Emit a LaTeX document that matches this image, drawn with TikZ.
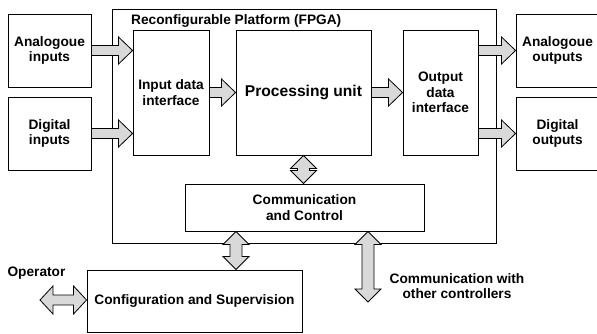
\documentclass[tikz,border=0pt]{standalone}
\usepackage{fontspec}
\setmainfont{Liberation Sans}
\usetikzlibrary{calc}
\definecolor{arrowgray}{RGB}{217,217,217}
\tikzset{
  box/.style={draw, line width=0.9pt, inner sep=0pt, align=center},
  lbl/.style={inner sep=0pt, align=center},
  barrow/.style={draw, fill=arrowgray, line width=0.8pt, line join=miter},
}
\newcommand\hbarrow[2]{\draw[barrow] let \p1=#1, \p2=#2 in
  (\x1,\y1+5pt) -- (\x2-14pt,\y1+5pt) -- (\x2-14pt,\y1+13.5pt) -- (\x2,\y1)
  -- (\x2-14pt,\y1-13.5pt) -- (\x2-14pt,\y1-5pt) -- (\x1,\y1-5pt) -- cycle;}
\newcommand\hdbarrow[2]{\draw[barrow] let \p1=#1, \p2=#2 in
  (\x1,\y1) -- (\x1+13pt,\y1+14pt) -- (\x1+13pt,\y1+5pt) -- (\x2-13pt,\y1+5pt)
  -- (\x2-13pt,\y1+14pt) -- (\x2,\y1) -- (\x2-13pt,\y1-14pt) -- (\x2-13pt,\y1-5pt)
  -- (\x1+13pt,\y1-5pt) -- (\x1+13pt,\y1-14pt) -- cycle;}
\newcommand\vdbarrow[2]{\draw[barrow] let \p1=#1, \p2=#2 in
  (\x1,\y1) -- (\x1+13pt,\y1-13pt) -- (\x1+6pt,\y1-13pt) -- (\x1+6pt,\y2+13pt)
  -- (\x1+13pt,\y2+13pt) -- (\x1,\y2) -- (\x1-13pt,\y2+13pt) -- (\x1-6pt,\y2+13pt)
  -- (\x1-6pt,\y1-13pt) -- (\x1-13pt,\y1-13pt) -- cycle;}
\begin{document}
\begin{tikzpicture}[x=1pt, y=-1pt,
  every node/.append style={font=\fontsize{13.7}{15.6}\selectfont\bfseries}]
\clip (0,0) rectangle (597,333);
\fill[white] (0,0) rectangle (597,333);
% platform
\node[box, minimum width=384pt, minimum height=234pt] (plat) at (304,126) {};
\node[lbl, anchor=base west] (title) at (131,24) {Reconfigurable Platform (FPGA)};
% inputs
\node[box, minimum width=83pt, minimum height=73pt] (ain) at (49.5,50.5) {Analogoue\\inputs};
\node[box, minimum width=83pt, minimum height=73pt] (din) at (49.5,133.5) {Digital\\inputs};
% inner blocks
\node[box, minimum width=76pt, minimum height=125pt] (idi) at (171,92.5) {Input data\\interface};
\node[box, minimum width=135pt, minimum height=125pt, font=\fontsize{15.6}{18}\selectfont\bfseries] (pu) at (303.5,92.5) {Processing unit};
\node[box, minimum width=75pt, minimum height=125pt] (odi) at (440.5,92.5) {Output\\data\\interface};
% outputs
\node[box, minimum width=83pt, minimum height=73pt] (aout) at (557.5,50.5) {Analogoue\\outputs};
\node[box, minimum width=83pt, minimum height=73pt] (dout) at (557.5,133.5) {Digital\\outputs};
% communication
\node[box, minimum width=239pt, minimum height=47pt] (cc) at (304.5,207.5) {Communication\\and Control};
\node[box, minimum width=215pt, minimum height=62pt] (cfg) at (194.5,301) {Configuration and Supervision};
% labels
\node[lbl] (op) at (36.5,273.5) {Operator};
\node[lbl] (oth) at (457,286) {Communication with\\other controllers};
% coordinates
\coordinate (opL) at (40,300);
\coordinate (cx1) at (236,0);
\coordinate (othEnd) at (368,302);
% arrows
\hbarrow{(ain.east)}{(idi.west |- ain.east)}
\hbarrow{(din.east)}{(idi.west |- din.east)}
\hbarrow{(idi.east)}{(pu.west)}
\hbarrow{(pu.east)}{(odi.west)}
\hbarrow{(odi.east |- aout.west)}{(aout.west)}
\hbarrow{(odi.east |- dout.west)}{(dout.west)}
\vdbarrow{(pu.south)}{(cc.north -| pu.south)}
\vdbarrow{(cc.south -| cx1)}{(cfg.north -| cx1)}
\vdbarrow{(cc.south -| othEnd)}{(othEnd)}
\hdbarrow{(opL)}{(cfg.west)}
\end{tikzpicture}
\end{document}
